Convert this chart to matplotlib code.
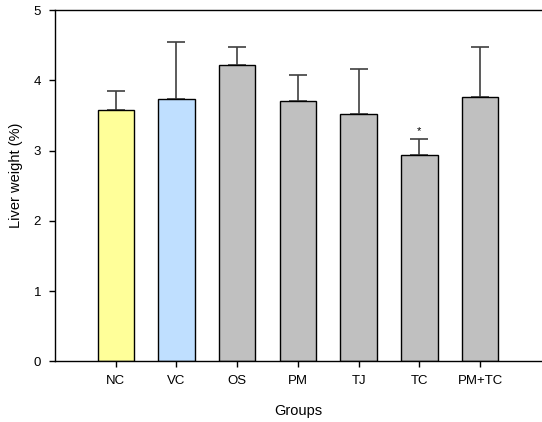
import matplotlib.pyplot as plt

plt.rcParams['font.family'] = ['Liberation Sans', 'DejaVu Sans']

# Liver weight per treatment group (mean and SD)
groups = ["NC", "VC", "OS", "PM", "TJ", "TC", "PM+TC"]
liver_weight = [3.58, 3.73, 4.22, 3.70, 3.52, 2.93, 3.76]
liver_sd = [0.27, 0.82, 0.25, 0.37, 0.64, 0.23, 0.72]
bar_colors = ["#FFFF99", "#BFDFFF", "#C0C0C0", "#C0C0C0", "#C0C0C0", "#C0C0C0", "#C0C0C0"]
significant = ["", "", "", "", "", "*", ""]

fig = plt.figure(figsize=(5.42, 4.22), dpi=100)
ax = fig.add_axes([0.1015, 0.1438, 0.8965, 0.8325])

x = list(range(1, len(groups) + 1))
ax.bar(x, liver_weight, width=0.6, color=bar_colors, edgecolor="black", linewidth=1.0, zorder=2)
ax.errorbar(x, liver_weight, yerr=[[0] * len(liver_sd), liver_sd], fmt="none",
            ecolor="#404040", elinewidth=1.2, capsize=6.5, capthick=1.2, zorder=1)

for xi, m, s, mark in zip(x, liver_weight, liver_sd, significant):
    if mark:
        ax.text(xi, m + s + 0.05, mark, ha="center", va="bottom", fontsize=8)

ax.set_xlim(0, 8)
ax.set_ylim(0, 5)
ax.set_xticks(x)
ax.set_xticklabels(groups)
ax.set_yticks([0, 1, 2, 3, 4, 5])
ax.tick_params(axis="both", direction="out", length=4, width=1, labelsize=9.5, pad=6)

ax.spines["right"].set_visible(False)
for s in ["left", "bottom", "top"]:
    ax.spines[s].set_linewidth(1.0)

ax.set_xlabel("Groups", fontsize=10.5, labelpad=12)
ax.set_ylabel("Liver weight (%)", fontsize=10.5)
ax.yaxis.set_label_coords(-0.066, 0.53)

fig.savefig("out.png", dpi=100)
